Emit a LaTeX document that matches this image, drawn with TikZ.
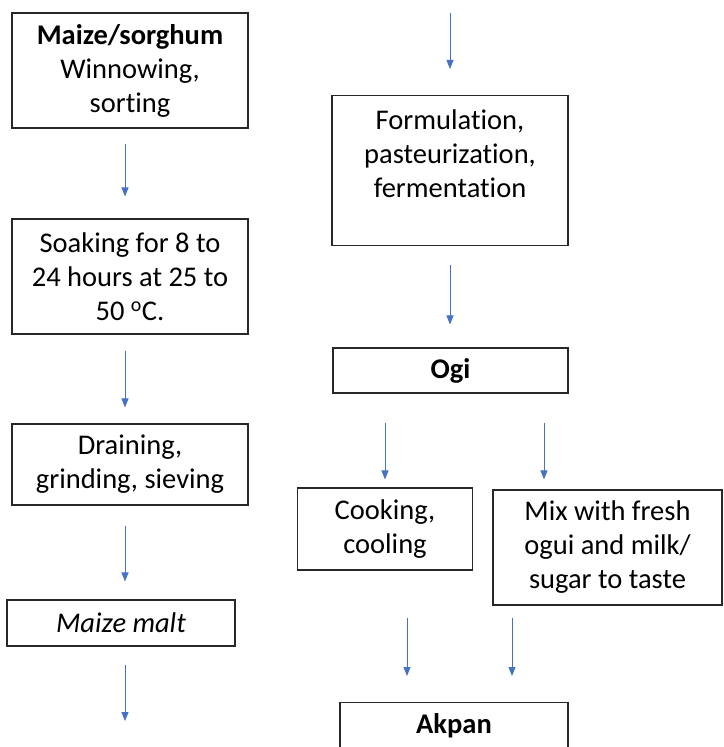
\documentclass[tikz,border=0pt]{standalone}
\usepackage{fontspec}
\setmainfont[Ligatures=NoCommon]{Carlito}
\usetikzlibrary{arrows.meta}
\definecolor{arrowblue}{RGB}{68,114,196}
\definecolor{boxline}{RGB}{40,40,40}
\begin{document}
\begin{tikzpicture}[x=1pt,y=-1pt,
  stepbox/.style={draw=boxline,line width=1.1pt,inner sep=0pt,align=center,
    font=\fontsize{28.5}{34}\selectfont},
  txt/.style={inner sep=0pt,align=center,font=\fontsize{28.5}{34}\selectfont},
  flow/.style={draw=arrowblue,line width=0.9pt,-{Triangle[length=9pt,width=7pt]}}]
\useasboundingbox (0,0) rectangle (723,747);
\clip (0,0) rectangle (723,747);
% left column
\node[stepbox,minimum width=236pt,minimum height=115pt] (b1) at (130,70.5)
  {\textbf{Maize/sorghum}\\Winnowing,\\sorting};
\node[stepbox,minimum width=236pt,minimum height=115pt] (b2) at (130,276.5)
  {Soaking for 8 to\\24 hours at 25 to\\50 \textsuperscript{o}C.};
\node[stepbox,minimum width=236pt,minimum height=81pt] (b3) at (130,464.5)
  {Draining,\\grinding, sieving};
\node[stepbox,minimum width=228pt,minimum height=46pt] (b4) at (121,623)
  {\textit{Maize malt}};
% right column
\node[stepbox,minimum width=236pt,minimum height=150pt] (b5) at (450,170.5) {};
\node[txt] (b5t) at (450,154) {Formulation,\\pasteurization,\\fermentation};
\node[stepbox,minimum width=235pt,minimum height=45pt] (ogi) at (450.5,370.5)
  {\textbf{Ogi}};
\node[stepbox,minimum width=175pt,minimum height=82pt] (b7) at (385,529)
  {Cooking,\\cooling};
\node[stepbox,minimum width=229pt,minimum height=115pt] (b8) at (607.5,547.5)
  {Mix with fresh\\ogui and milk/\\sugar to taste};
\node[stepbox,anchor=north,minimum width=228pt,text height=31pt,text depth=29pt] (akpan) at (454,702)
  {\textbf{Akpan}};
% connector coordinates
\coordinate (x1) at (125,0);
\coordinate (top5) at (450,13);
\coordinate (end4) at (125,721);
\coordinate (x6a) at (385,0);
\coordinate (x6b) at (544,0);
\coordinate (x7a) at (407,0);
\coordinate (x7b) at (512,0);
% arrows left
\draw[flow,shorten <=15pt,shorten >=22pt] (x1 |- b1.south) -- (x1 |- b2.north);
\draw[flow,shorten <=16pt,shorten >=16pt] (x1 |- b2.south) -- (x1 |- b3.north);
\draw[flow,shorten <=20pt,shorten >=18pt] (x1 |- b3.south) -- (x1 |- b4.north);
\draw[flow,shorten <=18pt] (x1 |- b4.south) -- (end4);
% arrows right
\draw[flow,shorten >=26pt] (top5) -- (top5 |- b5.north);
\draw[flow,shorten <=19pt,shorten >=23pt] (top5 |- b5.south) -- (top5 |- ogi.north);
\draw[flow,shorten <=29pt,shorten >=8pt] (x6a |- ogi.south) -- (x6a |- b7.north);
\draw[flow,shorten <=29pt,shorten >=10pt] (x6b |- ogi.south) -- (x6b |- b8.north);
\draw[flow,shorten <=47pt,shorten >=26pt] (x7a |- b7.south) -- (x7a |- akpan.north);
\draw[flow,shorten <=12pt,shorten >=26pt] (x7b |- b8.south) -- (x7b |- akpan.north);
\end{tikzpicture}
\end{document}
